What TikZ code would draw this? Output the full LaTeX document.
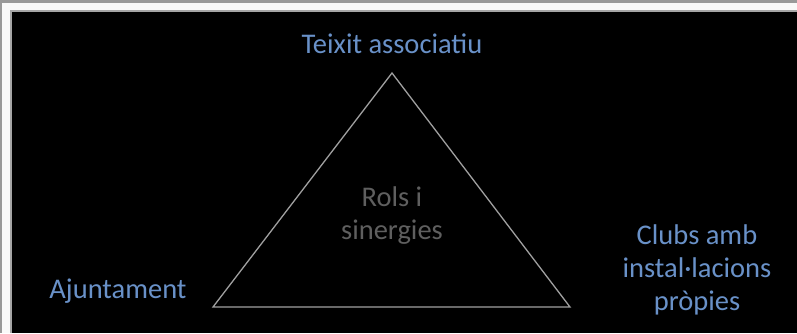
\documentclass[tikz,border=0pt]{standalone}
\usepackage{fontspec}
\setmainfont{Carlito}
\usepackage{tikz}
\definecolor{label}{RGB}{105, 145, 200}
\definecolor{core}{RGB}{95, 95, 95}
\definecolor{edge}{RGB}{160, 160, 160}

\begin{document}
\begin{tikzpicture}[x=1pt, y=-1pt, every node/.style={align=center, font=\fontsize{28.5}{33}\selectfont}]
% Frame
\fill[gray!80] (0,0) rectangle (797,333);
\fill[gray!5] (2,3) rectangle (797,333);
\fill[gray!70] (10,10) rectangle (797,333);
\fill[black] (12,12) rectangle (797,333);
\useasboundingbox (0,0) rectangle (797,333);

% Corners
\coordinate (top) at (392,73);
\coordinate (left) at (213,307);
\coordinate (right) at (570,307);

% Triangle
\draw[edge, line width=1.3pt, line join=miter] (top) -- (left) -- (right) -- cycle;

% Labels
\node[text=label] (teixit) at (392,44) {Teixit associatiu};
\node[text=label] (ajunt) at (118,291) {Ajuntament};
\node[text=label] (clubs) at (697,270) {Clubs amb\\instal·lacions\\pròpies};
\node[text=core] (rols) at (392,216) {Rols i\\sinergies};
\end{tikzpicture}
\end{document}
